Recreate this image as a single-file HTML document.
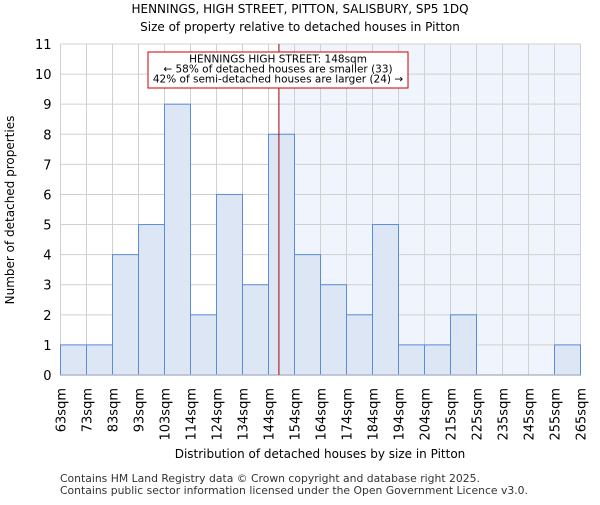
<!DOCTYPE html>
<html><head><meta charset="utf-8"><style>body{margin:0;background:#fff}svg{font-family:"DejaVu Sans","Liberation Sans",sans-serif}</style></head>
<body>
<svg id="c" width="600" height="500" xmlns="http://www.w3.org/2000/svg">
<text x="300" y="13" text-anchor="middle" font-size="12">HENNINGS, HIGH STREET, PITTON, SALISBURY, SP5 1DQ</text>
<text x="300" y="31" text-anchor="middle" font-size="12">Size of property relative to detached houses in Pitton</text>
<g id="g"></g>
<text x="320" y="458" text-anchor="middle" font-size="12">Distribution of detached houses by size in Pitton</text>
<text transform="translate(14,210) rotate(-90)" text-anchor="middle" font-size="12">Number of detached properties</text>
<text x="60" y="482" font-size="10.8" fill="#333">Contains HM Land Registry data © Crown copyright and database right 2025.</text>
<text x="60" y="494" font-size="10.8" fill="#333">Contains public sector information licensed under the Open Government Licence v3.0.</text>
</svg>
<script>
const labels=["63sqm","73sqm","83sqm","93sqm","103sqm","114sqm","124sqm","134sqm","144sqm","154sqm","164sqm","174sqm","184sqm","194sqm","204sqm","215sqm","225sqm","235sqm","245sqm","255sqm","265sqm"];
const counts=[1,1,4,5,9,2,6,3,8,4,3,2,5,1,1,2,0,0,0,1];
const yTicks=[0,1,2,3,4,5,6,7,8,9,10,11];
const subjectSize=148;
const x0=60.5,x1=580.5,y0=375,y1=44,yMax=11;
const n=counts.length,bw=(x1-x0)/n;
const X=i=>x0+i*bw, Y=v=>y0-(v/yMax)*(y0-y1);
const markerX=X(8)+(subjectSize-144)/10*bw;
const g=document.getElementById('g');const NS="http://www.w3.org/2000/svg";
function el(t,a){const e=document.createElementNS(NS,t);for(const k in a)e.setAttribute(k,a[k]);g.appendChild(e);return e;}
let r=el('rect',{x:markerX,y:y1,width:x1-markerX,height:y0-y1,fill:'#f0f4fc'});


yTicks.forEach(v=>{let l=el('line',{x1:x0,x2:x1,y1:Y(v),y2:Y(v),stroke:'#d0d0d0'});


let t=el('text',{x:x0-9,y:Y(v)+5,'text-anchor':'end','font-size':'13'});t.textContent=v;

});
labels.forEach((s,i)=>{let l=el('line',{x1:X(i),x2:X(i),y1:y1,y2:y0,stroke:'#d0d0d0'});


let t=el('text',{transform:`translate(${X(i)+5},388) rotate(-90)`,'text-anchor':'end','font-size':'13'});t.textContent=s;

});
counts.forEach((v,i)=>{if(v<=0)return;let b=el('rect',{x:X(i),y:Y(v),width:bw,height:y0-Y(v),fill:'#dce6f4',stroke:'#5b8dd6','stroke-width':1});

});
let ax=el('line',{x1:x0,x2:x1,y1:y0,y2:y0,stroke:'#b0b8c8','stroke-width':1.5});


let m=el('line',{x1:markerX,x2:markerX,y1:y1,y2:y0,stroke:'#aa0000','stroke-width':1});


let bx=el('rect',{x:148,y:52,width:260,height:36,fill:'#fff',stroke:'#cc0000','stroke-width':1});


["HENNINGS HIGH STREET: 148sqm","← 58% of detached houses are smaller (33)","42% of semi-detached houses are larger (24) →"].forEach((s,i)=>{let t=el('text',{x:278,y:62.5+i*10,'text-anchor':'middle','font-size':'10.5'});t.textContent=s;

});
</script>
</body></html>
